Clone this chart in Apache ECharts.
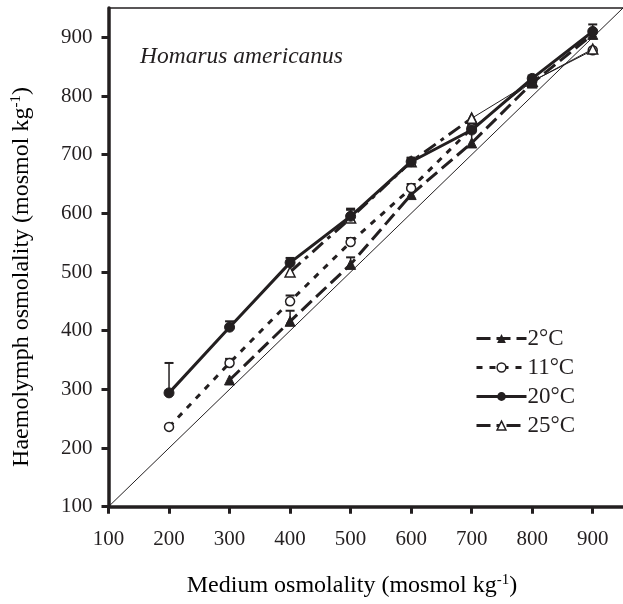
<!DOCTYPE html>
<html>
<head>
<meta charset="utf-8">
<script src="https://cdn.jsdelivr.net/npm/echarts@6/dist/echarts.min.js"></script>
<style>
  html, body { margin: 0; padding: 0; background: #fff; }
  #chart { width: 623px; height: 604px; }
</style>
</head>
<body>
<div id="chart"></div>
<script>
// medium osmolality (x)
var medium = [200, 300, 400, 500, 600, 700, 800, 900];
var axisTicks = [100, 200, 300, 400, 500, 600, 700, 800, 900];

// haemolymph osmolality per temperature
var t2 = [null, 316, 416, 513, 632, 720, 822, 905];
var t11 = [236, 345, 450, 551, 643, 745, 825, 878];
var t20 = [294, 406, 516, 595, 688, 742, 830, 910];
var t25 = [null, null, 500, 592, 688, 762, 825, 880];

// upper end of error bars (null = none visible)
var t2Err = [null, null, 434, 525, 640, 738, null, null];
var t11Err = [null, 352, 460, 558, 650, null, null, null];
var t20Err = [345, 416, 524, 608, 694, 752, 835, 922];
var t25Err = [null, null, null, 606, 695, null, null, null];

// isosmotic line
var iso = [100, 950];

var FONT = "'Liberation Serif', 'DejaVu Serif', serif";
var INK = "#231f20";

function pairs(vals, from, to) {
    var out = [];
    for (var i = 0; i < medium.length; i++) {
        if (vals[i] == null) continue;
        if (from != null && i < from) continue;
        if (to != null && i > to) continue;
        out.push([medium[i], vals[i]]);
    }
    return out;
}

function errPairs() {
    var out = [];
    var sets = [[t2, t2Err], [t11, t11Err], [t20, t20Err], [t25, t25Err]];
    sets.forEach(function (s) {
        for (var i = 0; i < medium.length; i++) {
            if (s[0][i] != null && s[1][i] != null) out.push([medium[i], s[0][i], s[1][i]]);
        }
    });
    return out;
}

var chart = echarts.init(document.getElementById("chart"));

var axisCommon = {
    type: "value",
    min: 100,
    max: 950,
    interval: 100,
    splitLine: { show: false },
    axisLine: { show: true, lineStyle: { color: INK, width: 3.5 } },
    axisTick: { show: true, inside: false, length: 7, lineStyle: { color: INK, width: 3 }, customValues: axisTicks },
    axisLabel: { color: INK, fontFamily: FONT, fontSize: 21, customValues: axisTicks }
};

var lineStyles = {
    "2°C": { color: INK, width: 3, type: [14, 6] },
    "11°C": { color: INK, width: 3, type: [6, 7] },
    "20°C": { color: INK, width: 3 },
    "25°C": { color: INK, width: 3, type: [14, 6, 4, 6] }
};
var filled = { color: INK, borderColor: INK };
var hollow = { color: "#fff", borderColor: INK, borderWidth: 1.5 };

var axisName = function (label) {
    return {
        text: "{a|" + label + "}{s|-1}{a|)}",
        align: "center", verticalAlign: "middle",
        rich: {
            a: { fontFamily: FONT, fontSize: 24, color: INK, lineHeight: 26 },
            s: { fontFamily: FONT, fontSize: 15, color: INK, verticalAlign: "top", lineHeight: 26 }
        }
    };
};

var option = {
    animation: false,
    backgroundColor: "#fff",
    grid: { left: 108.5, right: -2.5, top: 8, bottom: 97.3 },
    xAxis: [
        Object.assign({}, axisCommon, {
            axisLabel: Object.assign({}, axisCommon.axisLabel, { margin: 22 })
        }),
        {
            type: "value", position: "top", min: 100, max: 950,
            axisLine: { show: true, lineStyle: { color: INK, width: 1.5 } },
            axisTick: { show: false }, axisLabel: { show: false }, splitLine: { show: false }
        }
    ],
    yAxis: Object.assign({}, axisCommon, {
        axisLabel: Object.assign({}, axisCommon.axisLabel, { margin: 16 })
    }),
    legend: {
        orient: "vertical",
        left: 470,
        top: 322,
        itemWidth: 50,
        itemHeight: 11,
        itemGap: 6,
        textStyle: { fontFamily: FONT, fontSize: 23, color: INK, padding: [0, 0, 0, -4] },
        data: [
            { name: "2°C", lineStyle: lineStyles["2°C"], itemStyle: filled },
            { name: "11°C", lineStyle: lineStyles["11°C"], itemStyle: hollow },
            { name: "20°C", lineStyle: lineStyles["20°C"], itemStyle: filled },
            { name: "25°C", lineStyle: lineStyles["25°C"], itemStyle: hollow }
        ]
    },
    graphic: [
        {
            type: "text", left: 140, top: 45,
            style: { text: "Homarus americanus", font: "italic 23.5px " + FONT, fill: INK }
        },
        {
            type: "text", x: 352, y: 586,
            style: axisName("Medium osmolality (mosmol kg")
        },
        {
            type: "text", x: 22, y: 277, rotation: Math.PI / 2,
            style: axisName("Haemolymph osmolality (mosmol kg")
        }
    ],
    series: [
        {
            name: "iso", type: "line", data: [[iso[0], iso[0]], [iso[1], iso[1]]],
            symbol: "none", silent: true, lineStyle: { color: INK, width: 1 }, z: 1
        },
        {
            name: "errors", type: "custom", data: errPairs(), z: 3,
            renderItem: function (params, api) {
                var p = api.coord([api.value(0), api.value(1)]);
                var q = api.coord([api.value(0), api.value(2)]);
                return {
                    type: "group",
                    children: [
                        { type: "line", shape: { x1: p[0], y1: p[1], x2: q[0], y2: q[1] }, style: { stroke: INK, lineWidth: 1.5 } },
                        { type: "line", shape: { x1: q[0] - 4.5, y1: q[1], x2: q[0] + 4.5, y2: q[1] }, style: { stroke: INK, lineWidth: 2 } }
                    ]
                };
            }
        },
        {
            name: "2°C", type: "line", data: pairs(t2),
            symbol: "triangle", symbolSize: 10,
            itemStyle: filled, lineStyle: lineStyles["2°C"], z: 4
        },
        {
            name: "11°C", type: "line", data: pairs(t11, null, 5),
            symbol: "circle", symbolSize: 9,
            itemStyle: hollow, lineStyle: lineStyles["11°C"], z: 4
        },
        {
            name: "11°C thin", type: "line", data: pairs(t11, 5, null),
            symbol: "circle", symbolSize: 9,
            itemStyle: hollow, lineStyle: { color: INK, width: 1 }, z: 3
        },
        {
            name: "20°C", type: "line", data: pairs(t20),
            symbol: "circle", symbolSize: 10,
            itemStyle: filled, lineStyle: lineStyles["20°C"], z: 5
        },
        {
            name: "25°C", type: "line", data: pairs(t25, null, 5),
            symbol: "triangle", symbolSize: 10,
            itemStyle: hollow, lineStyle: lineStyles["25°C"], z: 4
        },
        {
            name: "25°C thin", type: "line", data: pairs(t25, 5, null),
            symbol: "triangle", symbolSize: 10,
            itemStyle: hollow, lineStyle: { color: INK, width: 1 }, z: 3
        }
    ]
};

chart.setOption(option);
</script>
</body>
</html>
